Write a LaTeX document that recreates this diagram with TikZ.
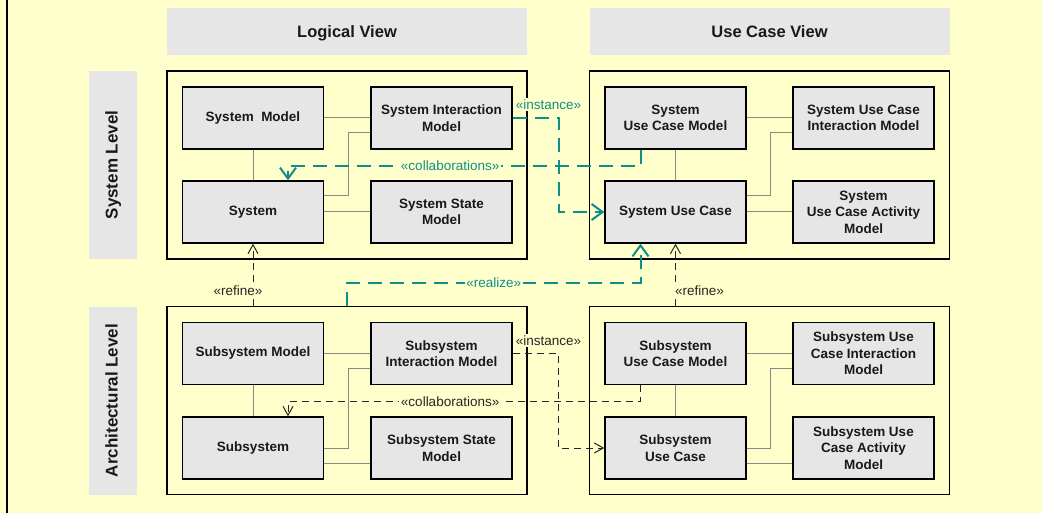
\documentclass[tikz,border=0pt]{standalone}
\usepackage{fontspec}
\setmainfont{Liberation Sans}
\usetikzlibrary{arrows.meta}

\definecolor{paper}{HTML}{FFFFCC}
\definecolor{boxgray}{HTML}{E6E6E6}
\definecolor{wiregray}{HTML}{8A8A8A}
\definecolor{depteal}{HTML}{108C8A}

\tikzset{
  pkg/.style={draw=black, line width=1.4pt, fill=paper, minimum width=360pt, minimum height=188pt, inner sep=0pt},
  elem/.style={draw=black, line width=1.4pt, fill=boxgray, minimum width=141pt, minimum height=62pt, inner sep=0pt,
    align=center, text=black!90, font=\fontsize{13.5}{16.5}\selectfont\bfseries},
  viewhead/.style={fill=boxgray, minimum width=360pt, minimum height=47pt, inner sep=0pt, text=black!90,
    text height=12pt, text depth=0pt, font=\fontsize{16.5}{18}\selectfont\bfseries},
  levelhead/.style={fill=boxgray, minimum width=188pt, minimum height=48pt, inner sep=0pt, rotate=90, text=black!90,
    text height=12.5pt, text depth=3.5pt, font=\fontsize{17}{18}\selectfont\bfseries},
  wire/.style={draw=wiregray, line width=1pt},
  tealdep/.style={draw=depteal, line width=2pt, dash pattern=on 14pt off 8pt, -{Straight Barb[length=11pt,width=16pt]}},
  blackdep/.style={draw=black!85, line width=1pt, dash pattern=on 7pt off 5pt, -{Straight Barb[length=9pt,width=10pt]}},
  stereo/.style={font=\fontsize{13.5}{15}\selectfont, fill=paper, inner sep=1.5pt},
}

\begin{document}
\begin{tikzpicture}[x=1pt,y=-1pt]
  % page
  \fill[paper] (0,0) rectangle (1042,513);
  \useasboundingbox (0,0) rectangle (1042,513);
  \draw[line width=1.2pt] (7,0) -- (7,513);

  % headings
  \node[viewhead] (logview) at (347,31.5) {Logical View};
  \node[viewhead] (ucview) at (769.5,31.5) {Use Case View};
  \node[levelhead] (syslevel) at (113,165) {System Level};
  \node[levelhead] (archlevel) at (113,400.5) {Architectural Level};

  % packages
  \node[pkg] (syslog) at (347,165) {};
  \node[pkg] (sysuc) at (769.5,165) {};
  \node[pkg] (archlog) at (347,400.5) {};
  \node[pkg] (archuc) at (769.5,400.5) {};

  % system level, logical view
  \node[elem] (sysmodel) at (253,118) {System\ \ Model};
  \node[elem] (sysinter) at (441.5,118) {System Interaction\\Model};
  \node[elem] (system) at (253,212) {System};
  \node[elem] (sysstate) at (441.5,212) {System State\\Model};

  % system level, use case view
  \node[elem] (sucmodel) at (675.5,118) {System\\Use Case Model};
  \node[elem] (sucinter) at (863.5,118) {System Use Case\\Interaction Model};
  \node[elem] (suc) at (675.5,212) {System Use Case};
  \node[elem] (sucact) at (863.5,212) {System\\Use Case Activity\\Model};

  % architectural level, logical view
  \node[elem] (submodel) at (253,353.5) {Subsystem Model};
  \node[elem] (subinter) at (441.5,353.5) {Subsystem\\Interaction Model};
  \node[elem] (subsystem) at (253,448) {Subsystem};
  \node[elem] (substate) at (441.5,448) {Subsystem State\\Model};

  % architectural level, use case view
  \node[elem] (subucmodel) at (675.5,353.5) {Subsystem\\Use Case Model};
  \node[elem] (subucinter) at (863.5,353.5) {Subsystem Use\\Case Interaction\\Model};
  \node[elem] (subuc) at (675.5,448) {Subsystem\\Use Case};
  \node[elem] (subucact) at (863.5,448) {Subsystem Use\\Case Activity\\Model};

  % links inside the packages
  \draw[wire] (sysmodel) -- (sysinter);
  \draw[wire] (sysmodel) -- (system);
  \draw[wire] ([yshift=16pt]system.east) -- ++(24,0) |- ([yshift=-15pt]sysinter.west);
  \draw[wire] (system) -- (sysstate);

  \draw[wire] (sucmodel) -- (sucinter);
  \draw[wire] (sucmodel) -- (suc);
  \draw[wire] ([yshift=16pt]suc.east) -- ++(24,0) |- ([yshift=-15pt]sucinter.west);
  \draw[wire] (suc) -- (sucact);

  \draw[wire] (submodel) -- (subinter);
  \draw[wire] (submodel) -- (subsystem);
  \draw[wire] (subsystem.east) -- ++(24,0) |- ([yshift=-15pt]subinter.west);
  \draw[wire] ([yshift=-15pt]subsystem.east) -- ([yshift=-15pt]substate.west);

  \draw[wire] (subucmodel) -- (subucinter);
  \draw[wire] (subucmodel) -- (subuc);
  \draw[wire] (subuc.east) -- ++(24,0) |- ([yshift=-15pt]subucinter.west);
  \draw[wire] ([yshift=-15pt]subuc.east) -- ([yshift=-15pt]subucact.west);

  % dependencies, system level
  \draw[tealdep] (sysinter.east) -- ++(46,0)
    node[stereo, pos=0.78, above=6pt, text=depteal] {«instance»} |- (suc.west);
  \draw[tealdep] ([xshift=-35pt]sucmodel.south) -- ++(0,16)
    -| node[stereo, pos=0.27, text=depteal] {«collaborations»} ([xshift=35pt]system.north);
  \draw[tealdep] (archlog.north) -- ++(0,-23)
    -| node[stereo, pos=0.25, text=depteal] {«realize»} ([xshift=-35pt]suc.south);

  % refinement between levels
  \draw[blackdep] (archlog.north -| system.south) --
    node[stereo, pos=0.24, xshift=-15pt, text=black!85] {«refine»} (system.south);
  \draw[blackdep] (archuc.north -| suc.south) --
    node[stereo, pos=0.24, xshift=24pt, text=black!85] {«refine»} (suc.south);

  % dependencies, architectural level
  \draw[blackdep] (subinter.east) -- ++(46,0)
    node[stereo, pos=0.78, above=6pt, text=black!85] {«instance»} |- (subuc.west);
  \draw[blackdep] ([xshift=-35pt]subucmodel.south) -- ++(0,16)
    -| node[stereo, pos=0.27, text=black!85] {«collaborations»} ([xshift=35pt]subsystem.north);
\end{tikzpicture}
\end{document}
